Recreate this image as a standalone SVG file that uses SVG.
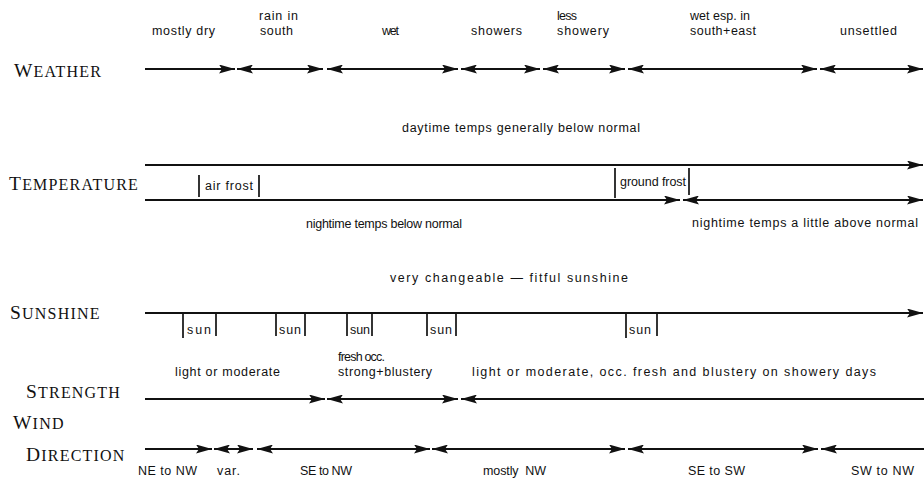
<svg xmlns="http://www.w3.org/2000/svg" width="924" height="481" viewBox="0 0 924 481">
<style>
.t{font-family:"Liberation Sans",Arial,sans-serif;font-size:12.5px;fill:#111}
.h{font-family:"Liberation Serif","Times New Roman",serif;font-size:16px;fill:#111;letter-spacing:1.2px}
.h .c{font-size:19.5px}
.ln{stroke:#111;stroke-width:1.8;fill:none}
.br{stroke:#111;stroke-width:1.7}
</style>
<defs>
<marker id="ah" viewBox="0 0 16 9" refX="16" refY="4.5" markerWidth="16" markerHeight="9" markerUnits="userSpaceOnUse" orient="auto-start-reverse">
<path d="M0,0 L16,4.5 L0,9 L3,4.5 z" fill="#111"/>
</marker>
</defs>
<rect width="924" height="481" fill="#fff"/>

<g id="row-labels">
<text class="h" x="14" y="77"><tspan class="c">W</tspan>EATHER</text>
<text class="h" x="9" y="190"><tspan class="c">T</tspan>EMPERATURE</text>
<text class="h" x="10" y="319"><tspan class="c">S</tspan>UNSHINE</text>
<text class="h" x="26" y="398"><tspan class="c">S</tspan>TRENGTH</text>
<text class="h" x="13" y="429"><tspan class="c">W</tspan>IND</text>
<text class="h" x="26" y="461"><tspan class="c">D</tspan>IRECTION</text>
</g>

<g id="connectors">
<!-- weather -->
<line class="ln" x1="145" y1="69" x2="235" y2="69" marker-end="url(#ah)"/>
<line class="ln" x1="237" y1="69" x2="323" y2="69" marker-start="url(#ah)" marker-end="url(#ah)"/>
<line class="ln" x1="327" y1="69" x2="458" y2="69" marker-start="url(#ah)" marker-end="url(#ah)"/>
<line class="ln" x1="461" y1="69" x2="540" y2="69" marker-start="url(#ah)" marker-end="url(#ah)"/>
<line class="ln" x1="543" y1="69" x2="625" y2="69" marker-start="url(#ah)" marker-end="url(#ah)"/>
<line class="ln" x1="628" y1="69" x2="817" y2="69" marker-start="url(#ah)" marker-end="url(#ah)"/>
<line class="ln" x1="820" y1="69" x2="923" y2="69" marker-start="url(#ah)" marker-end="url(#ah)"/>
<!-- temperature -->
<line class="ln" x1="145" y1="165" x2="923" y2="165" marker-end="url(#ah)"/>
<line class="ln" x1="145" y1="200" x2="680" y2="200" marker-end="url(#ah)"/>
<line class="ln" x1="683" y1="200" x2="923" y2="200" marker-start="url(#ah)" marker-end="url(#ah)"/>
<!-- sunshine -->
<line class="ln" x1="145" y1="313" x2="923" y2="313" marker-end="url(#ah)"/>
<!-- strength -->
<line class="ln" x1="145" y1="399" x2="325" y2="399" marker-end="url(#ah)"/>
<line class="ln" x1="327" y1="399" x2="458" y2="399" marker-start="url(#ah)" marker-end="url(#ah)"/>
<line class="ln" x1="461" y1="399" x2="924" y2="399" marker-start="url(#ah)"/>
<!-- direction -->
<line class="ln" x1="145" y1="449" x2="212" y2="449" marker-end="url(#ah)"/>
<line class="ln" x1="214" y1="449" x2="253" y2="449" marker-start="url(#ah)" marker-end="url(#ah)"/>
<line class="ln" x1="257" y1="449" x2="430" y2="449" marker-start="url(#ah)" marker-end="url(#ah)"/>
<line class="ln" x1="432" y1="449" x2="625" y2="449" marker-start="url(#ah)" marker-end="url(#ah)"/>
<line class="ln" x1="628" y1="449" x2="818" y2="449" marker-start="url(#ah)" marker-end="url(#ah)"/>
<line class="ln" x1="821" y1="449" x2="924" y2="449" marker-start="url(#ah)"/>
</g>

<g id="weather-labels">
<text class="t" x="152" y="35" textLength="63">mostly dry</text>
<text class="t" x="259" y="20" textLength="39">rain in</text>
<text class="t" x="260" y="35" textLength="33">south</text>
<text class="t" x="382" y="35" textLength="17">wet</text>
<text class="t" x="471" y="35" textLength="51">showers</text>
<text class="t" x="557" y="20" textLength="20">less</text>
<text class="t" x="557" y="35" textLength="52">showery</text>
<text class="t" x="690" y="20" textLength="60">wet esp. in</text>
<text class="t" x="690" y="35" textLength="66">south+east</text>
<text class="t" x="840" y="35" textLength="57">unsettled</text>
</g>

<g id="temperature-labels">
<text class="t" x="402" y="132" textLength="238">daytime temps generally below normal</text>
<text class="t" x="306" y="228" textLength="156">nightime temps below normal</text>
<text class="t" x="692" y="227" textLength="226">nightime temps a little above normal</text>
</g>

<g id="air-frost">
<line class="br" x1="199" y1="175" x2="199" y2="197"/>
<line class="br" x1="259" y1="175" x2="259" y2="197"/>
<text class="t" x="205" y="190" textLength="48">air frost</text>
</g>
<g id="ground-frost">
<line class="br" x1="615" y1="168" x2="615" y2="198"/>
<line class="br" x1="689" y1="168" x2="689" y2="195"/>
<text class="t" x="620" y="186" textLength="66">ground frost</text>
</g>

<g id="sunshine-labels">
<text class="t" x="390" y="282" textLength="238">very changeable — fitful sunshine</text>
</g>
<g id="sun-1"><line class="br" x1="183" y1="314" x2="183" y2="338"/><line class="br" x1="216" y1="314" x2="216" y2="336"/><text class="t" x="187" y="334" textLength="24">sun</text></g>
<g id="sun-2"><line class="br" x1="276" y1="314" x2="276" y2="336"/><line class="br" x1="305" y1="314" x2="305" y2="336"/><text class="t" x="279" y="334" textLength="22">sun</text></g>
<g id="sun-3"><line class="br" x1="347" y1="314" x2="347" y2="336"/><line class="br" x1="372" y1="314" x2="372" y2="336"/><text class="t" x="350" y="334" textLength="20">sun</text></g>
<g id="sun-4"><line class="br" x1="427" y1="314" x2="427" y2="336"/><line class="br" x1="456" y1="314" x2="456" y2="336"/><text class="t" x="430" y="334" textLength="22">sun</text></g>
<g id="sun-5"><line class="br" x1="626" y1="314" x2="626" y2="338"/><line class="br" x1="657" y1="314" x2="657" y2="336"/><text class="t" x="629" y="334" textLength="22">sun</text></g>

<g id="strength-labels">
<text class="t" x="175" y="376" textLength="105">light or moderate</text>
<text class="t" x="338" y="361" textLength="47">fresh occ.</text>
<text class="t" x="338" y="376" textLength="94">strong+blustery</text>
<text class="t" x="472" y="376" textLength="404">light or moderate, occ. fresh and blustery on showery days</text>
</g>

<g id="direction-labels">
<text class="t" x="138" y="475" textLength="59">NE to NW</text>
<text class="t" x="217" y="475" textLength="23">var.</text>
<text class="t" x="300" y="475" textLength="52">SE to NW</text>
<text class="t" x="483" y="475" textLength="63" xml:space="preserve">mostly  NW</text>
<text class="t" x="688" y="475" textLength="57">SE to SW</text>
<text class="t" x="851" y="475" textLength="63">SW to NW</text>
</g>
</svg>
